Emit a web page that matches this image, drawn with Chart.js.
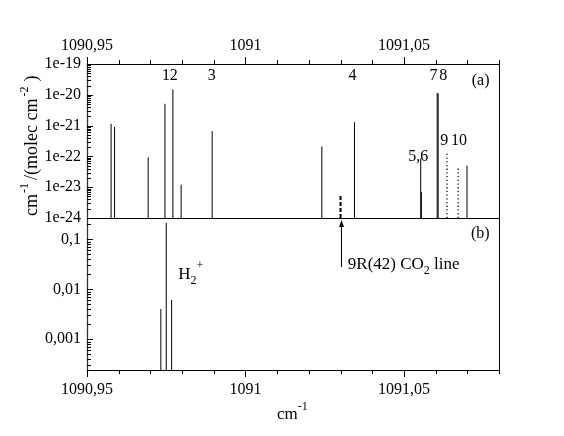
<!DOCTYPE html>
<html><head><meta charset="utf-8">
<script src="https://cdn.jsdelivr.net/npm/chart.js@4/dist/chart.umd.min.js"></script>
<style>html,body{margin:0;padding:0;background:#fff}#wrap{width:564px;height:436px;position:relative}</style>
</head><body>
<div id="wrap"><canvas id="c"></canvas></div>
<script>
// ---- axis ranges & ticks ----
const xMin = 1090.95, xMax = 1091.08;
const xMajorTicks = [1090.95, 1091, 1091.05];
const xTickLabels = ['1090,95', '1091', '1091,05'];
const topMin = 1e-24, topMax = 1e-19;
const topTicks = [1e-24, 1e-23, 1e-22, 1e-21, 1e-20, 1e-19];
const topTickLabels = ['1e-24', '1e-23', '1e-22', '1e-21', '1e-20', '1e-19'];
const botMin = 2.43e-4, botMax = 0.267;
const botTicks = [0.001, 0.01, 0.1];
const botTickLabels = ['0,001', '0,01', '0,1'];

// ---- panel (a): line intensities ----
const lineX = [1090.9576, 1090.9587, 1090.9693, 1090.9746, 1090.9771, 1090.9797, 1090.9895,
               1091.0241, 1091.0344, 1091.0553, 1091.0555, 1091.0605, 1091.0608, 1091.0699];
const lineS = [1.15e-21, 9e-22, 9.3e-23, 5.1e-21, 1.5e-20, 1.2e-23, 6.6e-22,
               2.1e-22, 1.3e-21, 8.5e-23, 7e-24, 1.15e-20, 1.1e-20, 5e-23];
const dottedX = [1091.0636, 1091.0671];
const dottedS = [1.35e-22, 4.2e-23];
const co2X = [1091.0300];
const co2S = [5.7e-24];

// ---- panel (b): H2+ ----
const h2X = [1090.9733, 1090.9750, 1090.9767];
const h2S = [0.00404, 0.214, 0.0061];

// ---- annotation labels (data coordinates) ----
const peakText = ['1', '2', '3', '4', '7', '8', '5,6', '9', '10', '(a)'];
const peakLabelX = [1090.9749, 1090.9774, 1090.9894, 1091.0338, 1091.0593, 1091.0624, 1091.0545, 1091.0627, 1091.0674, 1091.0742];
const peakLabelY = [4e-20, 4e-20, 4e-20, 4e-20, 4e-20, 4e-20, 9.8e-23, 3.2e-22, 3.2e-22, 2.9e-20];

function sticks(xs, ys, base) {
  const pts = [];
  xs.forEach((x, i) => { pts.push({x, y: base}); pts.push({x, y: ys[i]}); pts.push({x, y: null}); });
  return pts;
}

const FONT = '"Liberation Serif", "Times New Roman", serif';

function xTickSetup(s) { s.ticks = xMajorTicks.map(v => ({value: v})); }
function xLabel(v) { const i = xMajorTicks.findIndex(t => Math.abs(t - v) < 1e-6); return i >= 0 ? xTickLabels[i] : ''; }

const baseScale = {
  grid: {drawOnChartArea: false, drawTicks: false},
  border: {display: false},
};

const framePlugin = {
  id: 'frame',
  afterDraw(chart) {
    const ctx = chart.ctx;
    const xs = chart.scales.x, yt = chart.scales.yTop, yb = chart.scales.yBot;
    const L = chart.chartArea.left, R = chart.chartArea.right, T = chart.chartArea.top, B = chart.chartArea.bottom;
    const mid = yt.bottom;
    ctx.save();
    ctx.strokeStyle = '#000';
    ctx.lineWidth = 1;
    ctx.beginPath();
    ctx.moveTo(L, T + 0.5); ctx.lineTo(R, T + 0.5);
    ctx.moveTo(L, mid + 0.5); ctx.lineTo(R, mid + 0.5);
    ctx.moveTo(L, B + 0.5); ctx.lineTo(R, B + 0.5);
    ctx.moveTo(R + 0.5, T); ctx.lineTo(R + 0.5, B);
    ctx.stroke();
    ctx.strokeStyle = '#333';
    ctx.lineWidth = 1.3;
    ctx.beginPath();
    ctx.moveTo(L + 0.5, T); ctx.lineTo(L + 0.5, B + 1);
    ctx.stroke();
    // x ticks (outward, top and bottom)
    ctx.strokeStyle = '#000';
    ctx.lineWidth = 1;
    ctx.beginPath();
    for (let i = 0; i <= 13; i++) {
      const v = xMin + i * 0.01;
      const px = Math.round(xs.getPixelForValue(v)) + 0.5;
      const major = (i % 5 === 0);
      const len = major ? 7 : 4;
      ctx.moveTo(px, T); ctx.lineTo(px, T - len);
      ctx.moveTo(px, B); ctx.lineTo(px, B + len);
    }
    // y ticks (inward)
    function yTicks(scale, lo, hi) {
      for (let e = Math.floor(Math.log10(lo)); e <= Math.ceil(Math.log10(hi)); e++) {
        for (let m = 1; m <= 9; m++) {
          const v = m * Math.pow(10, e);
          if (v < lo * 0.999 || v > hi * 1.001) continue;
          const py = Math.round(scale.getPixelForValue(v)) + 0.5;
          const len = m === 1 ? 6 : 4;
          ctx.moveTo(L, py); ctx.lineTo(L + len, py);
        }
      }
    }
    yTicks(yt, topMin, topMax);
    yTicks(yb, botMin, botMax);
    ctx.stroke();

    // peak labels
    ctx.fillStyle = '#000';
    ctx.font = '16px ' + FONT;
    ctx.textAlign = 'center';
    ctx.textBaseline = 'middle';
    peakText.forEach((t, i) => {
      ctx.fillText(t, xs.getPixelForValue(peakLabelX[i]), yt.getPixelForValue(peakLabelY[i]));
    });
    ctx.fillText('(b)', xs.getPixelForValue(1091.0741), yb.getPixelForValue(0.128));

    // rich text helper
    function rich(parts, x, y) {
      ctx.textAlign = 'left';
      ctx.textBaseline = 'alphabetic';
      let cx = x;
      parts.forEach(p => {
        ctx.font = p.size + 'px ' + FONT;
        ctx.fillText(p.t, cx, y + (p.dy || 0));
        cx += ctx.measureText(p.t).width + (p.gap || 0);
      });
    }
    // H2+
    rich([{t: 'H', size: 17}, {t: '2', size: 12, dy: 5}, {t: '+', size: 12, dy: -10}],
         xs.getPixelForValue(1090.9788), yb.getPixelForValue(0.0161));
    // CO2 arrow
    const ax = Math.round(xs.getPixelForValue(co2X[0])) + 0.5;
    const ay0 = yb.getPixelForValue(0.0279);
    const ay1 = mid + 2;
    ctx.beginPath();
    ctx.moveTo(ax, ay0); ctx.lineTo(ax, ay1 + 5);
    ctx.stroke();
    ctx.beginPath();
    ctx.moveTo(ax, ay1); ctx.lineTo(ax - 2.5, ay1 + 7); ctx.lineTo(ax + 2.5, ay1 + 7); ctx.closePath();
    ctx.fill();
    rich([{t: '9R(42) CO', size: 17}, {t: '2', size: 12, dy: 5}, {t: ' line', size: 17}],
         xs.getPixelForValue(1091.0323), yb.getPixelForValue(0.0255));

    // x axis title
    rich([{t: 'cm', size: 17}, {t: '-1', size: 12, dy: -9}], 277, 419);
    // y axis title (rotated)
    ctx.save();
    ctx.translate(37, 216);
    ctx.rotate(-Math.PI / 2);
    rich([{t: 'cm', size: 18, gap: 1}, {t: '-1', size: 12, dy: -9, gap: 3}, {t: '/(molec cm', size: 18, gap: 2},
          {t: '-2', size: 12, dy: -9, gap: 5}, {t: ')', size: 18}], 0, 0);
    ctx.restore();
    ctx.restore();
  }
};

new Chart(document.getElementById('c'), {
  type: 'line',
  data: {
    datasets: [
      {data: sticks(lineX, lineS, topMin), xAxisID: 'x', yAxisID: 'yTop', borderColor: '#000', borderWidth: 1, pointRadius: 0, spanGaps: false},
      {data: sticks(dottedX, dottedS, topMin), xAxisID: 'x', yAxisID: 'yTop', borderColor: '#000', borderWidth: 1.2, borderDash: [1.3, 2.4], pointRadius: 0, spanGaps: false},
      {data: sticks(co2X, co2S, topMin), xAxisID: 'x', yAxisID: 'yTop', borderColor: '#000', borderWidth: 2, borderDash: [4, 2], pointRadius: 0, spanGaps: false},
      {data: sticks(h2X, h2S, botMin), xAxisID: 'x', yAxisID: 'yBot', borderColor: '#000', borderWidth: 1, pointRadius: 0, spanGaps: false}
    ]
  },
  options: {
    responsive: true,
    maintainAspectRatio: false,
    animation: false,
    events: [],
    layout: {padding: {left: 0, right: 65, top: 0, bottom: 0}},
    plugins: {legend: {display: false}, tooltip: {enabled: false}},
    scales: {
      x: Object.assign({}, baseScale, {
        type: 'linear', position: 'bottom', min: xMin, max: xMax,
        afterBuildTicks: xTickSetup,
        afterFit: s => { s.height = 66; },
        ticks: {callback: xLabel, autoSkip: false, maxRotation: 0, color: '#000', font: {family: FONT, size: 16}, padding: 10}
      }),
      x2: Object.assign({}, baseScale, {
        type: 'linear', position: 'top', min: xMin, max: xMax,
        afterBuildTicks: xTickSetup,
        afterFit: s => { s.height = 64; },
        ticks: {callback: xLabel, autoSkip: false, maxRotation: 0, color: '#000', font: {family: FONT, size: 16}, padding: 9}
      }),
      yBot: Object.assign({}, baseScale, {
        type: 'logarithmic', position: 'left', stack: 'panels', stackWeight: 152, min: botMin, max: botMax,
        afterBuildTicks: s => { s.ticks = botTicks.map(v => ({value: v})); },
        afterFit: s => { s.width = 87; },
        ticks: {callback: v => { const i = botTicks.findIndex(t => Math.abs(Math.log10(t) - Math.log10(v)) < 1e-6); return i >= 0 ? botTickLabels[i] : ''; },
                autoSkip: false, color: '#000', font: {family: FONT, size: 16}, padding: 6}
      }),
      yTop: Object.assign({}, baseScale, {
        type: 'logarithmic', position: 'left', stack: 'panels', stackWeight: 154, min: topMin, max: topMax,
        afterBuildTicks: s => { s.ticks = topTicks.map(v => ({value: v})); },
        afterFit: s => { s.width = 87; },
        ticks: {callback: v => { const i = topTicks.findIndex(t => Math.abs(Math.log10(t) - Math.log10(v)) < 1e-6); return i >= 0 ? topTickLabels[i] : ''; },
                autoSkip: false, color: '#000', font: {family: FONT, size: 16}, padding: 6}
      })
    }
  },
  plugins: [framePlugin]
});
</script>
</body></html>
